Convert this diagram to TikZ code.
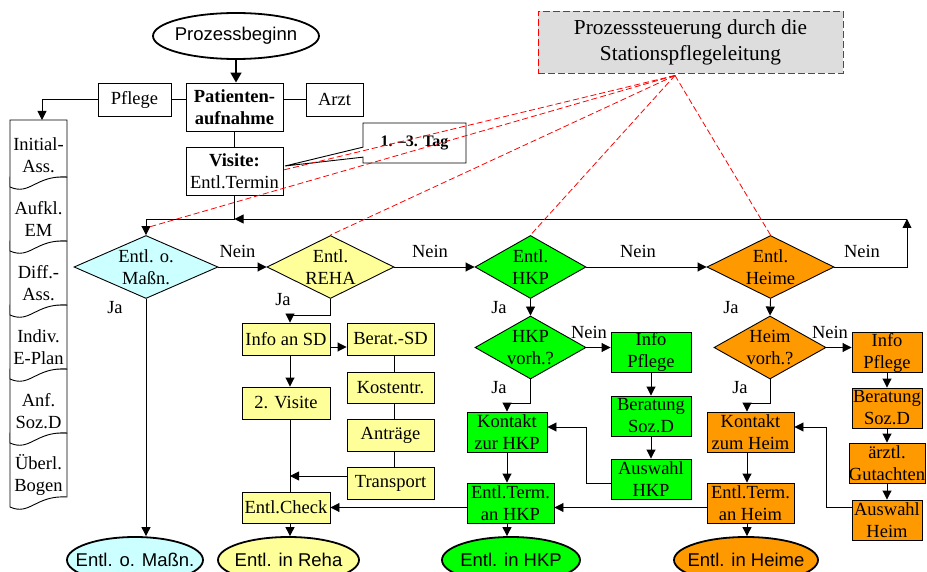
\documentclass[tikz,border=0pt]{standalone}
\usepackage{fontspec}
\setmainfont{Liberation Serif}
\newfontfamily\sansf{Liberation Sans}
\usetikzlibrary{arrows.meta,shapes.geometric,shapes.callouts,calc}
\definecolor{cyanL}{HTML}{CCFFFF}
\definecolor{yelL}{HTML}{FFFF99}
\definecolor{grn}{HTML}{00FF00}
\definecolor{orn}{HTML}{FF9900}
\definecolor{grayL}{HTML}{DDDDDD}
\begin{document}
\begin{tikzpicture}[x=1pt,y=-1pt,
  txt/.style={font=\fontsize{18.5pt}{22pt}\selectfont, align=center, inner sep=0pt},
  box/.style={txt, draw, line width=0.9pt, rectangle},
  dia/.style={draw, line width=0.9pt, diamond, inner sep=0pt},
  term/.style={draw, line width=1.8pt, ellipse, inner sep=0pt},
  termtxt/.style={inner sep=0pt, align=center, font=\sansf\fontsize{18.5pt}{22pt}\selectfont},
  ln/.style={line width=0.9pt},
  arr/.style={ln, -{Triangle[length=9pt,width=9pt]}},
  ctl/.style={red, line width=0.8pt, dash pattern=on 6pt off 3pt},
  lbl/.style={txt}
]
\useasboundingbox (0,0) rectangle (927,572);

% ---------- document stack ----------
\foreach \i/\txtd in {5/{Überl.\\Bogen},4/{Anf.\\Soz.D},3/{Indiv.\\E-Plan},2/{Diff.-\\Ass.},1/{Aufkl.\\EM},0/{Initial-\\Ass.}}{
  \pgfmathsetmacro\yb{187+64*\i}
  \pgfmathsetmacro\yt{(\i==0 ? 120 : 177+64*(\i-1))}
  \draw[ln, fill=white] (67,\yt) -- (67,\yb-10) .. controls (35.6,\yb-12) and (30,\yb+9) .. (10,\yb) -- (10,\yt) -- cycle;
  \node[txt] (doc\i) at (38.5,155+64*\i) {\txtd};
}
\coordinate (d1top) at (42,120);

% ---------- top part ----------
\node[term, minimum width=166pt, minimum height=46pt] (start) at (236,36) {};
\node[termtxt] (start-t) at (start) {Prozessbeginn};
\node[box, minimum width=97pt, minimum height=48pt] (auf) at (234.5,107) {\textbf{Patienten-}\\\textbf{aufnahme}};
\node[box, minimum width=73pt, minimum height=33pt] (pflege) at (134.5,99.5) {Pflege};
\node[box, minimum width=57pt, minimum height=33pt] (arzt) at (334.5,99.5) {Arzt};
\node[box, fill=white, minimum width=97pt, minimum height=48pt] (visite) at (234.5,171) {\textbf{Visite:}\\Entl.Termin};
\node[draw, line width=0.9pt, rectangle callout, fill=white, inner sep=0pt, align=center,
      callout absolute pointer={(285,166)}, callout pointer width=10pt,
      minimum width=103pt, minimum height=40pt,
      font=\fontsize{16pt}{19pt}\selectfont\bfseries] (tag) at (414.5,143) {\raisebox{3pt}{1. –3. Tag}};
\node[txt, draw=red, fill=grayL, line width=0.9pt, dash pattern=on 7pt off 3pt,
      minimum width=305pt, minimum height=62pt,
      font=\fontsize{21.3pt}{26pt}\selectfont] (ctrl) at (690.5,42) {Prozesssteuerung durch die\\Stationspflegeleitung};

\draw[line width=1.6pt, -{Triangle[length=10pt,width=11pt]}] (start.south) -- (start.south |- auf.north);
\draw[ln] (pflege.east) -- (pflege.east -| auf.west);
\draw[ln] (arzt.west -| auf.east) -- (arzt.west);
\draw[arr] (pflege.west) -| (d1top);
\draw[ln] (auf.south) -- (visite.north);

% ---------- decision row ----------
\node[dia, fill=cyanL, minimum width=144pt, minimum height=63pt] (maszn) at (146,267) {};
\node[dia, fill=yelL, minimum width=127pt, minimum height=63pt] (reha) at (330.5,267) {};
\node[dia, fill=grn, minimum width=111pt, minimum height=63pt] (hkp) at (530.5,267) {};
\node[dia, fill=orn, minimum width=127pt, minimum height=63pt] (heime) at (770.5,267) {};
\node[dia, fill=grn, minimum width=111pt, minimum height=63pt] (hkpv) at (530.5,347.5) {};
\node[dia, fill=orn, minimum width=112pt, minimum height=63pt] (heimv) at (770,347.5) {};
\node[txt] (maszn-t) at (maszn) {Entl. o.\\Maßn.};
\node[txt] (reha-t) at (reha) {Entl.\\REHA};
\node[txt] (hkp-t) at (hkp) {Entl.\\HKP};
\node[txt] (heime-t) at (heime) {Entl.\\Heime};
\node[txt] (hkpv-t) at (hkpv) {HKP\\vorh.?};
\node[txt] (heimv-t) at (heimv) {Heim\\vorh.?};

% ---------- REHA column ----------
\node[box, fill=yelL, minimum width=88pt, minimum height=32pt] (infosd) at (286,339) {Info an SD};
\node[box, fill=yelL, minimum width=87pt, minimum height=32pt] (berat) at (390.5,339) {Berat.-SD};
\node[box, fill=yelL, minimum width=87pt, minimum height=31pt] (kosten) at (390.5,387.5) {Kostentr.};
\node[box, fill=yelL, minimum width=87pt, minimum height=32pt] (antr) at (390.5,435) {Anträge};
\node[box, fill=yelL, minimum width=87pt, minimum height=32pt] (transp) at (390.5,483) {Transport};
\node[box, fill=yelL, minimum width=88pt, minimum height=32pt] (vis2) at (286,403) {2. Visite};
\node[box, fill=yelL, minimum width=88pt, minimum height=31pt] (check) at (286,507.5) {Entl.Check};
\coordinate (colR) at ([xshift=4pt]check.north);

% ---------- HKP column ----------
\node[box, fill=grn, minimum width=80pt, minimum height=40pt] (infop1) at (651,352) {Info\\Pflege};
\node[box, fill=grn, minimum width=80pt, minimum height=40pt] (berat1) at (651,416) {Beratung\\Soz.D};
\node[box, fill=grn, minimum width=80pt, minimum height=40pt] (ausw1) at (651,479) {Auswahl\\HKP};
\node[box, fill=grn, minimum width=80pt, minimum height=40pt] (kont1) at (507,432) {Kontakt\\zur HKP};
\node[box, fill=grn, minimum width=87pt, minimum height=40pt] (term1) at (510.5,503) {Entl.Term.\\an HKP};

% ---------- Heime column ----------
\node[box, fill=orn, minimum width=70pt, minimum height=40pt] (infop2) at (887,352.5) {Info\\Pflege};
\node[box, fill=orn, minimum width=70pt, minimum height=40pt] (berat2) at (887,408) {Beratung\\Soz.D};
\node[box, fill=orn, minimum width=70pt, minimum height=40pt] (gut2) at (887,463) {ärztl.\\Gutachten};
\node[box, fill=orn, minimum width=70pt, minimum height=40pt] (ausw2) at (887,520) {Auswahl\\Heim};
\node[box, fill=orn, minimum width=87pt, minimum height=40pt] (kont2) at (750.5,432) {Kontakt\\zum Heim};
\node[box, fill=orn, minimum width=87pt, minimum height=40pt] (term2) at (750.5,503) {Entl.Term.\\an Heim};

% ---------- terminals ----------
\node[term, fill=cyanL, minimum width=136pt, minimum height=46pt] (e1) at (135,560) {};
\node[term, fill=yelL, minimum width=141pt, minimum height=46pt] (e2) at (288.5,560) {};
\node[term, fill=grn, minimum width=138pt, minimum height=46pt] (e3) at (511,560) {};
\node[term, fill=orn, minimum width=144pt, minimum height=46pt] (e4) at (746,560) {};
\node[termtxt] (e1-t) at (e1) {Entl. o. Maßn.};
\node[termtxt] (e2-t) at (e2) {Entl. in Reha};
\node[termtxt] (e3-t) at (e3) {Entl. in HKP};
\node[termtxt] (e4-t) at (e4) {Entl. in Heime};

% ---------- loop back ----------
\coordinate (retA) at (907,267);
\coordinate (retB) at (907,219);
\coordinate (j1) at (234.5,219);
\draw[ln] (visite.south) -- (j1);
\draw[arr] (heime.east) -- (retA) -- (retB);
\draw[arr] (retB) -- (j1);
\draw[arr] (j1) -| (maszn.north);

% ---------- decision row connectors ----------
\draw[arr] (maszn.east) -- (reha.west);
\draw[arr] (reha.east) -- (hkp.west);
\draw[arr] (hkp.east) -- (heime.west);
\draw[arr] (maszn.south) -- (maszn.south |- e1.north);
\node[lbl] (n1) at (237.5,251) {Nein};
\node[lbl] (n2) at (430,251) {Nein};
\node[lbl] (n3) at (638,251) {Nein};
\node[lbl] (n4) at (862,251) {Nein};
\node[lbl] (n5) at (589,332) {Nein};
\node[lbl] (n6) at (830,332) {Nein};
\node[lbl] (ja1) at (115,308) {Ja};
\node[lbl] (ja2) at (283,300) {Ja};
\node[lbl] (ja3) at (499,308) {Ja};
\node[lbl] (ja4) at (731,308) {Ja};
\node[lbl] (ja5) at (499,388) {Ja};
\node[lbl] (ja6) at (740,388) {Ja};

% REHA connectors
\draw[arr] (reha.south) -- ++(0,17) -| ([xshift=4pt]infosd.north);
\draw[arr] ([yshift=-8pt]infosd.east) -- ([yshift=-8pt]berat.west);
\draw[ln] ([xshift=3.5pt]berat.south) -- ([xshift=3.5pt]kosten.north);
\draw[ln] ([xshift=3.5pt]kosten.south) -- ([xshift=3.5pt]antr.north);
\draw[ln] ([xshift=3.5pt]antr.south) -- ([xshift=3.5pt]transp.north);
\draw[arr] ([xshift=4pt]infosd.south) -- ([xshift=4pt]vis2.north);
\draw[ln] ([xshift=4pt]vis2.south) -- ([xshift=4pt]check.north);
\draw[arr] ([yshift=7pt]transp.west) -- ([yshift=7pt]transp.west -| colR);
\draw[arr] ([xshift=4pt]check.south) -- ([xshift=4pt]check.south |- e2.north);
\draw[arr] (check.east -| term1.west) -- (check.east);

% HKP connectors
\draw[arr] (hkp.south) -- (hkpv.north);
\draw[arr] (hkpv.east) -- (hkpv.east -| infop1.west);
\draw[arr] (infop1.south) -- (berat1.north);
\draw[arr] (berat1.south) -- (ausw1.north);
\draw[arr] (hkpv.south) -- ++(0,24) -| (kont1.north);
\draw[arr] ([yshift=-4pt]ausw1.west) -- ++(-24,0) |- ([yshift=5pt]kont1.east);
\draw[arr] (kont1.south) -- (kont1.south |- term1.north);
\draw[arr] (kont1.south |- term1.south) -- (kont1.south |- e3.north);
\draw[arr] (check.east -| term2.west) -- (check.east -| term1.east);

% Heime connectors
\draw[arr] (heime.south) -- (heimv.north);
\draw[arr] (heimv.east) -- (heimv.east -| infop2.west);
\draw[arr] (infop2.south) -- (berat2.north);
\draw[arr] (berat2.south) -- (gut2.north);
\draw[arr] (gut2.south) -- (ausw2.north);
\draw[arr] (heimv.south) -- ++(0,24) -| ([xshift=-3.5pt]kont2.north);
\draw[arr] ([yshift=13pt]ausw2.west) -- ++(-25,0) |- ([yshift=5pt]kont2.east);
\draw[arr] ([xshift=-3.5pt]kont2.south) -- ([xshift=-3.5pt]term2.north);
\draw[arr] ([xshift=-3.5pt]term2.south) -- ([xshift=-3.5pt]term2.south |- e4.north);

% ---------- control lines ----------
\coordinate (cs) at ([xshift=-15.5pt,yshift=-2pt]ctrl.south);
\draw[ctl] (cs) -- ([yshift=1pt]visite.east);
\draw[ctl] (cs) -- ([shift={(3pt,8pt)}]maszn.north);
\draw[ctl] (cs) -- (reha.north);
\draw[ctl] (cs) -- (hkp.north);
\draw[ctl] (cs) -- (heime.north);
\end{tikzpicture}
\end{document}
